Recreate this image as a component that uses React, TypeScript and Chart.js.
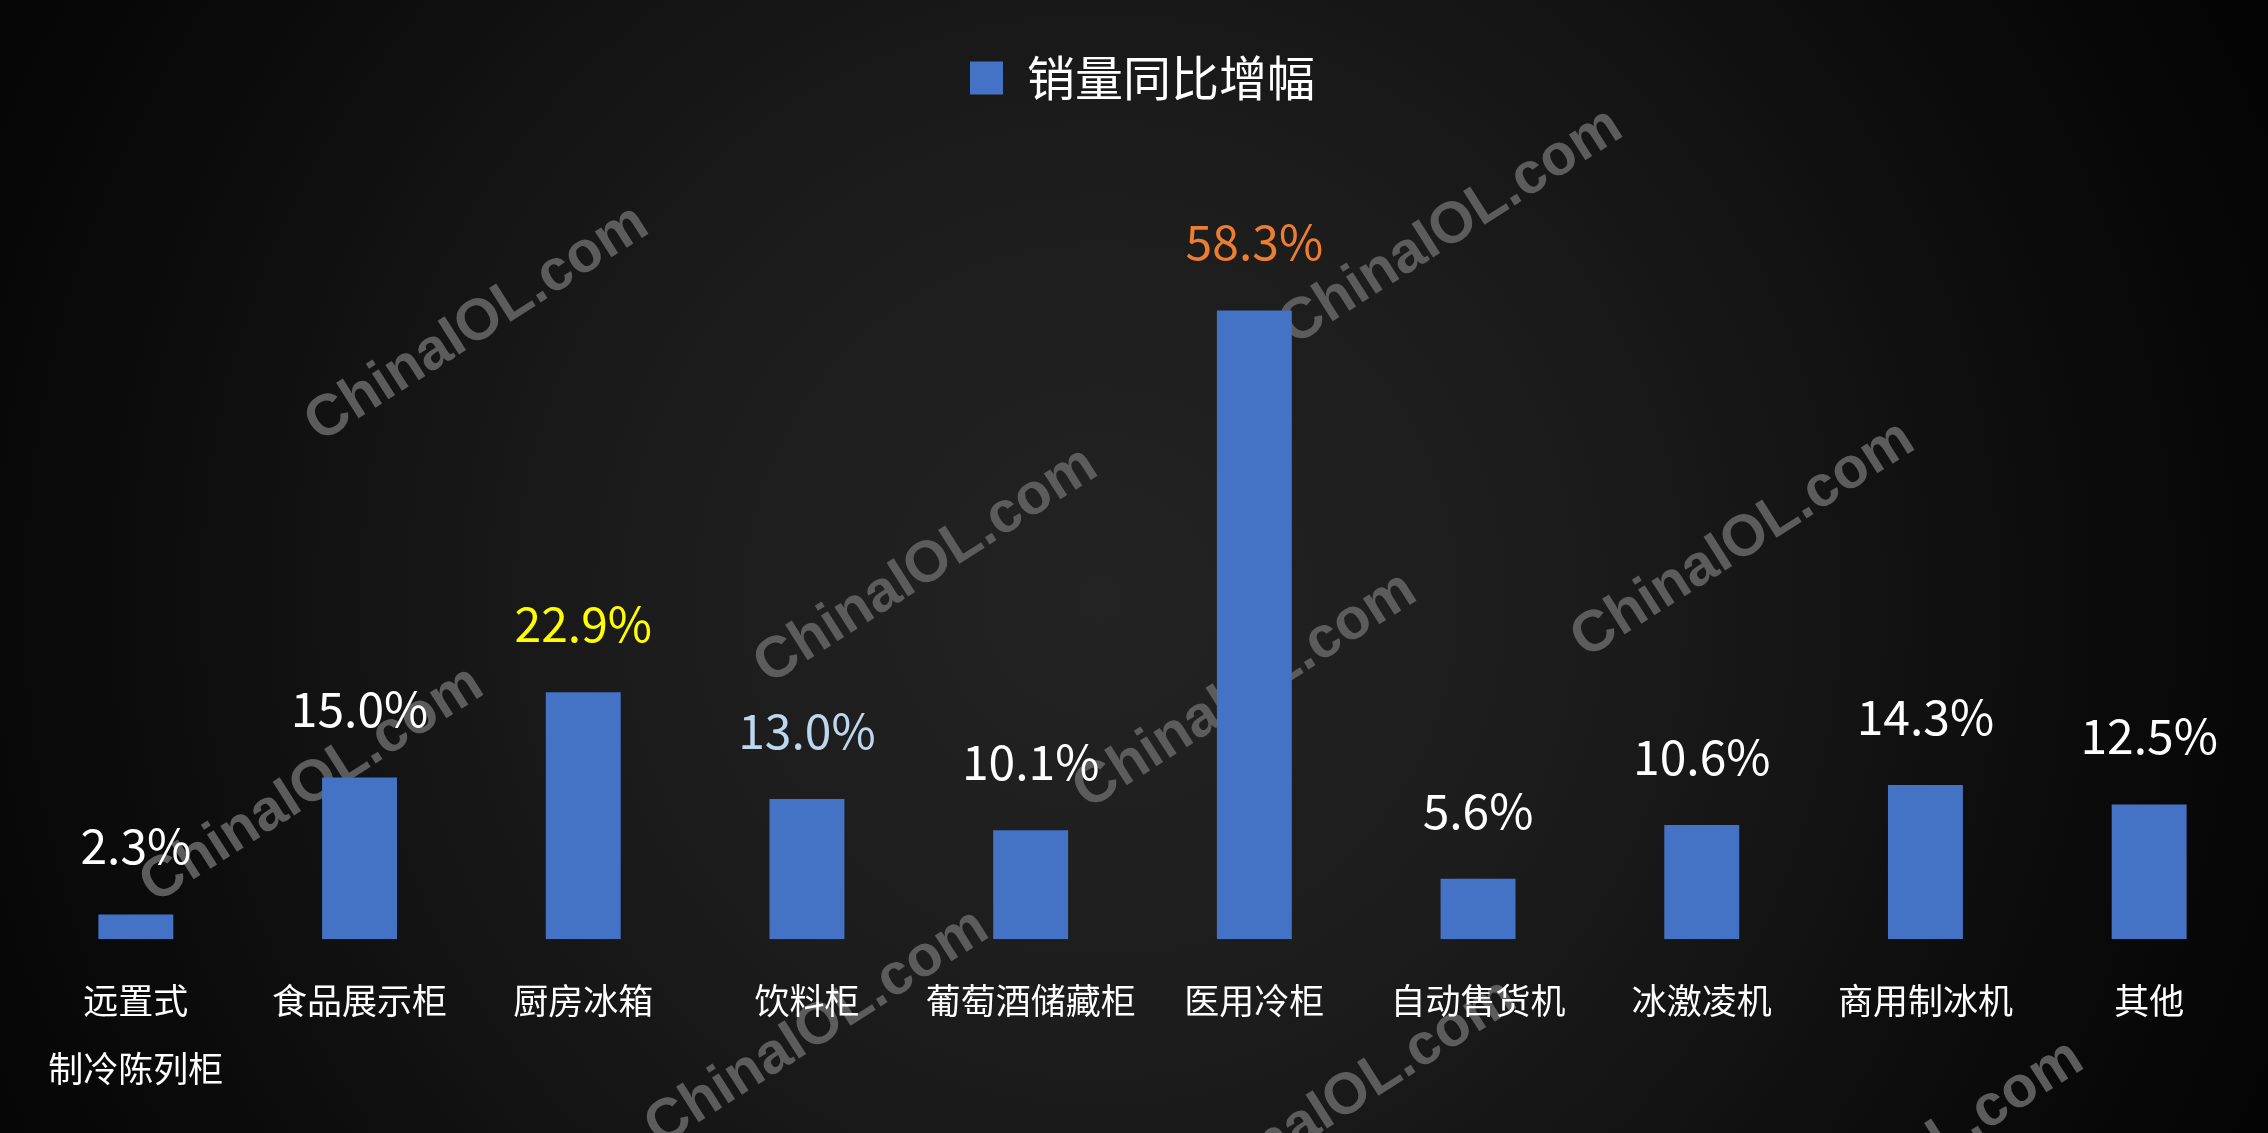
import React, { useEffect, useRef } from 'react';
import { Chart, registerables } from 'chart.js';

Chart.register(...registerables);

// ---- data ----
const categories: (string | string[])[] = [
  ['远置式', '制冷陈列柜'],
  '食品展示柜',
  '厨房冰箱',
  '饮料柜',
  '葡萄酒储藏柜',
  '医用冷柜',
  '自动售货机',
  '冰激凌机',
  '商用制冰机',
  '其他',
];
const growthValues = [2.3, 15.0, 22.9, 13.0, 10.1, 58.3, 5.6, 10.6, 14.3, 12.5];
const valueLabelColors = [
  '#FFFFFF', '#FFFFFF', '#FFFF00', '#BDD7EE', '#FFFFFF',
  '#ED7D31', '#FFFFFF', '#FFFFFF', '#FFFFFF', '#FFFFFF',
];
const seriesName = '销量同比增幅';
const watermarkText = 'ChinaIOL.com';

const FONT = "'Noto Sans CJK SC', 'Noto Sans', sans-serif";

const W = 2268;
const H = 1133;

const backgroundPlugin = {
  id: 'bgAndWatermark',
  beforeDraw(chart: any) {
    const ctx: CanvasRenderingContext2D = chart.ctx;
    ctx.save();
    const g = ctx.createRadialGradient(1100, 600, 0, 1100, 600, 1320);
    g.addColorStop(0, '#232323');
    g.addColorStop(0.34, '#1c1c1c');
    g.addColorStop(0.53, '#151515');
    g.addColorStop(0.76, '#0b0b0b');
    g.addColorStop(1, '#030303');
    ctx.fillStyle = g;
    ctx.fillRect(0, 0, chart.width, chart.height);

    const marks = [
      [477, 324], [1451, 227], [926, 566], [1743, 540], [1245, 691],
      [312, 785], [817, 1028], [1912, 1159], [1345, 1098],
    ];
    ctx.font = "bold 58px 'Liberation Sans', Arial, sans-serif";
    ctx.fillStyle = '#5c5c5c';
    ctx.textAlign = 'center';
    ctx.textBaseline = 'middle';
    for (const [x, y] of marks) {
      ctx.save();
      ctx.translate(x, y);
      ctx.rotate((-32.5 * Math.PI) / 180);
      ctx.fillText(watermarkText, 0, 0);
      ctx.restore();
    }
    ctx.restore();
  },
};

const valueLabelPlugin = {
  id: 'valueLabels',
  afterDatasetsDraw(chart: any) {
    const ctx: CanvasRenderingContext2D = chart.ctx;
    const meta = chart.getDatasetMeta(0);
    ctx.save();
    ctx.font = `48px ${FONT}`;
    ctx.textAlign = 'center';
    ctx.textBaseline = 'alphabetic';
    meta.data.forEach((bar: any, i: number) => {
      ctx.fillStyle = valueLabelColors[i];
      ctx.fillText(growthValues[i].toFixed(1) + '%', bar.x, bar.y - 50);
    });
    ctx.restore();
  },
};

export default function App() {
  const ref = useRef<HTMLCanvasElement>(null);

  useEffect(() => {
    const canvas = ref.current;
    if (!canvas) return;
    const chart = new Chart(canvas, {
      type: 'bar',
      data: {
        labels: categories,
        datasets: [
          {
            label: seriesName,
            data: growthValues,
            backgroundColor: '#4472C4',
            borderWidth: 0,
            barPercentage: 0.335,
            categoryPercentage: 1,
          },
        ],
      },
      options: {
        animation: false,
        responsive: false,
        devicePixelRatio: 1,
        layout: { padding: { top: 44, left: 24, right: 7, bottom: 2 } },
        plugins: {
          legend: {
            display: true,
            position: 'top',
            labels: {
              color: '#FFFFFF',
              boxWidth: 33,
              boxHeight: 33,
              padding: 10,
              font: { family: FONT, size: 48 },
            },
          },
          tooltip: { enabled: false },
        },
        scales: {
          x: {
            grid: { display: false, drawTicks: false },
            border: { display: false },
            ticks: {
              color: '#FFFFFF',
              padding: 28,
              maxRotation: 0,
              autoSkip: false,
              font: { family: FONT, size: 35, lineHeight: 1.94 },
            },
          },
          y: {
            display: false,
            min: 0,
            max: 76.7,
          },
        },
      },
      plugins: [backgroundPlugin, valueLabelPlugin],
    });
    return () => chart.destroy();
  }, []);

  return (
    <div style={{ position: 'fixed', left: 0, top: 0, width: W, height: H, background: '#0a0a0a' }}>
      <canvas ref={ref} width={W} height={H} style={{ display: 'block', width: W, height: H }} />
    </div>
  );
}
